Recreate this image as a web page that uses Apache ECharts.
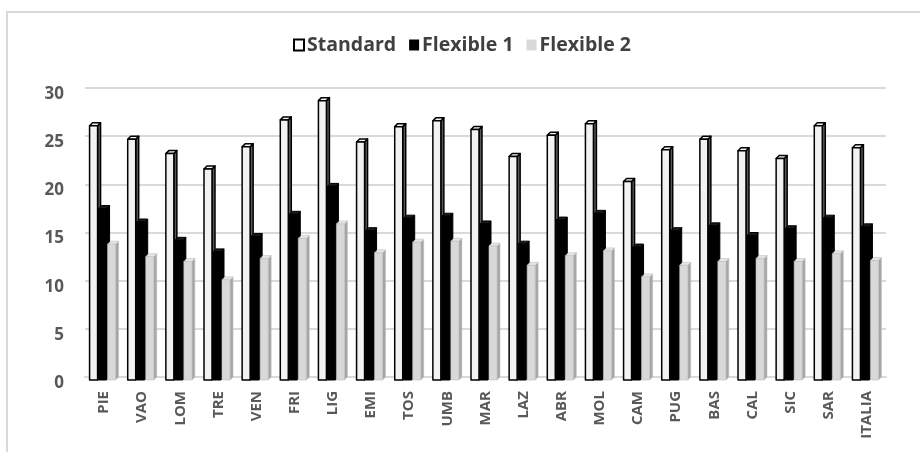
<!DOCTYPE html>
<html>
<head>
<meta charset="utf-8">
<script src="https://cdn.jsdelivr.net/npm/echarts@6/dist/echarts.min.js"></script>
<style>
  html, body { margin: 0; padding: 0; background: #ffffff; }
  #chart { width: 920px; height: 452px; }
</style>
</head>
<body>
<div id="chart"></div>
<script>
// Regions (abbreviated) plus the national total
const regions = ['PIE', 'VAO', 'LOM', 'TRE', 'VEN', 'FRI', 'LIG', 'EMI', 'TOS', 'UMB', 'MAR',
                 'LAZ', 'ABR', 'MOL', 'CAM', 'PUG', 'BAS', 'CAL', 'SIC', 'SAR', 'ITALIA'];

const standard  = [26.4, 25.0, 23.5, 21.9, 24.2, 27.0, 29.0, 24.7, 26.3, 26.9, 26.0,
                   23.2, 25.4, 26.6, 20.6, 23.9, 25.0, 23.8, 23.0, 26.4, 24.1];
const flexible1 = [17.8, 16.4, 14.5, 13.3, 14.9, 17.2, 20.1, 15.5, 16.8, 17.0, 16.2,
                   14.1, 16.6, 17.3, 13.8, 15.5, 16.0, 15.0, 15.7, 16.8, 15.9];
const flexible2 = [14.1, 12.8, 12.3, 10.4, 12.6, 14.7, 16.2, 13.2, 14.3, 14.4, 13.9,
                   11.9, 12.9, 13.4, 10.7, 11.9, 12.3, 12.6, 12.3, 13.1, 12.4];

const yTicks = { min: 0, max: 30, step: 5 };

const seriesNames = ['Standard', 'Flexible 1', 'Flexible 2'];

// Face colours for the pseudo-3D columns: front, side, top, outline
const looks = [
  { front: '#f2f2f2', side: '#595959', top: '#f2f2f2', stroke: '#000000', lw: 1.5 },
  { front: '#000000', side: '#000000', top: '#1a1a1a', stroke: '#000000', lw: 1 },
  { front: '#d9d9d9', side: '#a6a6a6', top: '#e6e6e6', stroke: '#bfbfbf', lw: 0.6 }
];

const FACE_W = 8;   // front face width
const PITCH = 9;    // distance between neighbouring columns in a group
const DEPTH = 3;    // extrusion depth

function columnRenderer(slot) {
  const look = looks[slot];
  return function (params, api) {
    const idx = api.value(0);
    const top = api.coord([idx, api.value(1)]);
    const base = api.coord([idx, 0]);
    const groupW = PITCH * 2 + FACE_W + DEPTH;
    const x = base[0] - groupW / 2 + slot * PITCH;
    const yTop = top[1] + DEPTH;
    const yBot = base[1] + DEPTH;
    const style = (fill) => ({ fill: fill, stroke: look.stroke, lineWidth: look.lw, lineJoin: 'round' });
    return {
      type: 'group',
      children: [
        {
          type: 'polygon',
          shape: { points: [[x + FACE_W, yTop], [x + FACE_W + DEPTH, yTop - DEPTH],
                            [x + FACE_W + DEPTH, yBot - DEPTH], [x + FACE_W, yBot]] },
          style: style(look.side)
        },
        {
          type: 'polygon',
          shape: { points: [[x, yTop], [x + DEPTH, yTop - DEPTH],
                            [x + FACE_W + DEPTH, yTop - DEPTH], [x + FACE_W, yTop]] },
          style: style(look.top)
        },
        {
          type: 'rect',
          shape: { x: x, y: yTop, width: FACE_W, height: yBot - yTop },
          style: style(look.front)
        }
      ]
    };
  };
}

const valueSets = [standard, flexible1, flexible2];

const chart = echarts.init(document.getElementById('chart'), null, { renderer: 'canvas' });

const labelFont = '"Open Sans", "Noto Sans", sans-serif';

chart.setOption({
  backgroundColor: '#ffffff',
  animation: false,
  graphic: [{
    type: 'rect',
    silent: true,
    shape: { x: 7, y: 12, width: 1000, height: 1000 },
    style: { fill: 'none', stroke: '#d9d9d9', lineWidth: 2 }
  }],
  legend: {
    top: 30,
    left: 288,
    itemWidth: 10,
    itemHeight: 11,
    itemGap: 13,
    icon: 'rect',
    textStyle: { fontFamily: labelFont, fontWeight: 'bold', fontSize: 19.5, color: '#404040', padding: [0, 0, 0, -2] },
    data: [
      { name: seriesNames[0], itemStyle: { color: '#ffffff', borderColor: '#000000', borderWidth: 2 } },
      { name: seriesNames[1], itemStyle: { color: '#000000', borderWidth: 0 } },
      { name: seriesNames[2], itemStyle: { color: '#d9d9d9', borderWidth: 0 } }
    ]
  },
  grid: { left: 85, right: 34, top: 88, bottom: 75, containLabel: false },
  xAxis: {
    type: 'category',
    data: regions,
    boundaryGap: true,
    axisTick: { show: false },
    axisLine: { show: true, lineStyle: { color: '#d9d9d9', width: 2 } },
    axisLabel: {
      rotate: 90,
      margin: 14,
      interval: 0,
      fontFamily: labelFont,
      fontWeight: 'bold',
      fontSize: 15,
      color: '#595959'
    }
  },
  yAxis: {
    type: 'value',
    min: yTicks.min,
    max: yTicks.max,
    interval: yTicks.step,
    axisLine: { show: false },
    axisTick: { show: false },
    splitLine: { lineStyle: { color: '#d9d9d9', width: 2 } },
    axisLabel: {
      margin: 21,
      fontFamily: labelFont,
      fontWeight: 'bold',
      fontSize: 17,
      color: '#595959',
      verticalAlign: 'top',
      lineHeight: 12
    }
  },
  series: valueSets.map((vals, slot) => ({
    name: seriesNames[slot],
    type: 'custom',
    renderItem: columnRenderer(slot),
    encode: { x: 0, y: 1 },
    data: vals.map((v, i) => [i, v]),
    z: 2 + slot
  }))
});
</script>
</body>
</html>
